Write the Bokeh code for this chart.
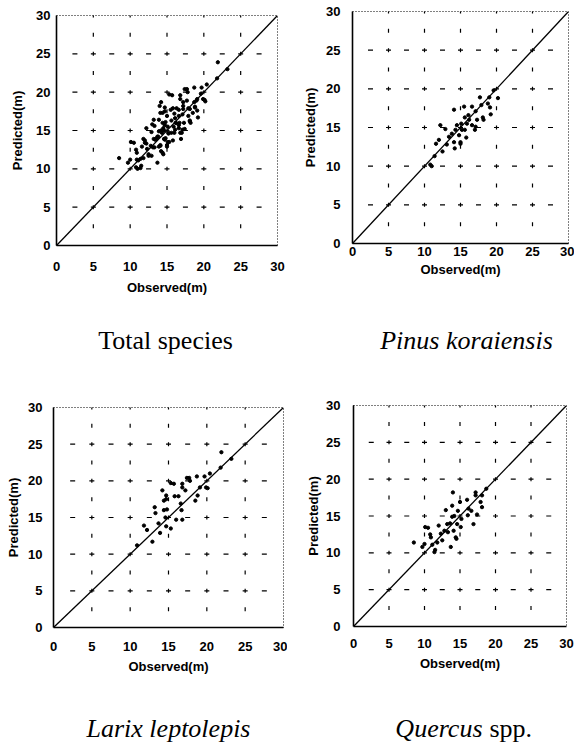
import math
from bokeh.plotting import figure
from bokeh.models import Range1d, FixedTicker
from bokeh.core.properties import value
from bokeh.layouts import column, row
from bokeh.embed import file_html
from bokeh.resources import INLINE

# ---------------- data ----------------
ticks = [0, 5, 10, 15, 20, 25, 30]
tick_labels = ["0", "5", "10", "15", "20", "25", "30"]
half_steps = [0, 2.5, 5, 7.5, 10, 12.5, 15, 17.5, 20, 22.5, 25, 27.5, 30]
diag = [0, 30]

pinus_obs = [10.8, 11.0, 11.4, 11.6, 12.0, 12.2, 12.5, 12.9, 13.1, 13.4,
             13.8, 14.1, 14.1, 14.2, 14.3, 14.5, 14.8, 15.0, 15.0, 15.1,
             15.2, 15.5, 15.6, 15.6, 15.8, 15.9, 16.1, 16.2, 16.6, 16.6,
             17.0, 17.1, 17.1, 17.3, 17.7, 17.9, 18.1, 18.2, 18.8, 19.0,
             19.1, 19.2, 19.6, 20.2]
pinus_pred = [10.2, 10.0, 11.3, 12.9, 13.4, 15.3, 11.9, 14.8, 12.8, 13.8,
              14.2, 17.3, 13.1, 12.3, 14.7, 15.3, 14.0, 13.1, 12.9, 15.5,
              14.7, 17.7, 16.3, 14.7, 13.7, 15.5, 16.6, 16.0, 17.7, 15.3,
              14.7, 15.1, 17.1, 16.0, 18.9, 17.9, 16.3, 16.0, 18.1, 18.9,
              17.6, 16.7, 19.8, 18.8]

larix_obs = [10.9, 11.8, 12.2, 12.9, 13.2, 13.3, 13.7, 13.9, 14.2, 14.4,
             14.4, 14.6, 14.7, 14.7, 14.7, 14.8, 15.3, 15.3, 15.7, 15.8,
             16.0, 16.3, 16.6, 16.7, 16.8, 16.8, 16.8, 17.2, 17.4, 17.7,
             17.8, 18.5, 18.7, 18.8, 19.1, 19.7, 19.9, 20.1, 20.4, 21.8,
             21.9, 23.2]
larix_pred = [11.2, 13.9, 13.3, 11.7, 16.4, 15.6, 14.2, 12.9, 18.7, 17.3,
              16.0, 15.0, 18.0, 17.5, 13.8, 16.1, 13.5, 19.7, 19.6, 17.9,
              14.7, 17.9, 16.9, 16.0, 19.6, 19.1, 14.7, 18.7, 20.4, 20.4,
              20.0, 17.3, 20.6, 18.0, 19.1, 20.6, 19.1, 19.0, 21.0, 21.8,
              23.9, 23.0]

quercus_obs = [8.5, 9.7, 10.0, 10.1, 10.5, 10.8, 10.9, 11.1, 11.4, 11.5,
               11.8, 12.0, 12.3, 12.5, 12.8, 13.0, 13.2, 13.3, 13.6, 13.7,
               13.9, 13.9, 14.0, 14.1, 14.2, 14.4, 14.5, 14.6, 14.7, 15.0,
               15.1, 15.2, 16.0, 16.1, 16.2, 16.6, 16.9, 17.2, 17.2, 17.4,
               17.9, 18.1, 18.1, 18.7]
quercus_pred = [11.4, 10.8, 11.2, 13.5, 13.4, 12.5, 12.1, 11.1, 10.1, 10.4,
                11.4, 13.7, 12.6, 11.7, 13.0, 15.8, 13.9, 12.8, 14.0, 10.8,
                16.4, 14.9, 18.2, 13.0, 15.0, 12.1, 11.9, 13.9, 15.7, 16.9,
                13.5, 14.6, 17.2, 15.1, 16.0, 15.7, 13.9, 18.2, 17.8, 15.2,
                16.9, 16.2, 17.8, 18.7]

total_obs = pinus_obs + larix_obs + quercus_obs
total_pred = pinus_pred + larix_pred + quercus_pred

SANS = "Liberation Sans"
SERIF = "Liberation Serif"


def make_panel(obs, pred, width, height, bl, br, bt, bb,
               ytick_so, ylab_so, xtick_so, xlab_so):
    p = figure(width=width, height=height,
               x_range=Range1d(0, 30), y_range=Range1d(0, 30),
               output_backend="svg", toolbar_location=None,
               min_border_left=bl, min_border_right=br,
               min_border_top=bt, min_border_bottom=bb,
               background_fill_color="white", border_fill_color="white")
    p.xgrid.grid_line_color = None
    p.ygrid.grid_line_color = None
    p.outline_line_color = "black"
    p.outline_line_dash = "1 2"
    p.outline_line_width = 1

    for ax in (p.xaxis[0], p.yaxis[0]):
        ax.ticker = FixedTicker(ticks=ticks)
        ax.major_label_overrides = {t: s for t, s in zip(ticks, tick_labels)}
        ax.major_tick_line_color = None
        ax.minor_tick_line_color = None
        ax.major_tick_in = 0
        ax.major_tick_out = 0
        ax.axis_line_color = "black"
        ax.axis_line_width = 1.6
        ax.major_label_text_font = SANS
        ax.major_label_text_font_style = "bold"
        ax.major_label_text_font_size = "13px"
        ax.major_label_text_color = "black"
        ax.axis_label_text_font = SANS
        ax.axis_label_text_font_style = "bold"
        ax.axis_label_text_font_size = "13px"
        ax.axis_label_text_color = "black"
    p.xaxis.axis_label = "Observed(m)"
    p.yaxis.axis_label = "Predicted(m)"
    p.xaxis.major_label_standoff = xtick_so
    p.xaxis.axis_label_standoff = xlab_so
    p.yaxis.major_label_standoff = ytick_so
    p.yaxis.axis_label_standoff = ylab_so

    # dashed grid: short dashes every 2.5 units along each grid line
    inner = ticks[1:-1]
    hx = [x for y in inner for x in half_steps[1:-1]]
    hy = [y for y in inner for x in half_steps[1:-1]]
    p.scatter(hx, hy, marker="dash", size=5, line_color="black", line_width=1.2)
    vx = [x for x in inner for y in half_steps[1:]]
    vy = [y for x in inner for y in half_steps[1:]]
    p.scatter(vx, vy, marker="dash", angle=math.pi / 2, size=4,
              line_color="black", line_width=1.2)

    p.line(diag, diag, line_color="black", line_width=1.3)
    p.scatter(obs, pred, size=3.3, fill_color="black", line_color="black")
    return p


def make_title(width, height, bl, br, base_y, parts):
    t = figure(width=width, height=height,
               x_range=Range1d(0, 30), y_range=Range1d(0, height),
               output_backend="svg", toolbar_location=None,
               x_axis_location=None, y_axis_location=None,
               min_border_left=bl, min_border_right=br,
               min_border_top=0, min_border_bottom=0,
               background_fill_color="white", border_fill_color="white")
    t.outline_line_color = None
    t.xgrid.grid_line_color = None
    t.ygrid.grid_line_color = None
    for text, style, align, dx in parts:
        t.text(x=[15], y=[base_y], text=[text], x_offset=dx,
               text_align=align, text_baseline="alphabetic",
               text_font=value(SERIF), text_font_size="26px",
               text_font_style=style, text_color="black")
    return t


p1 = make_panel(total_obs, total_pred, 287, 300, 56, 10, 15, 55, 6, 8, 16, 6)
t1 = make_title(287, 70, 56, 10, 30, [("Total species", "normal", "center", -1.5)])

p2 = make_panel(pinus_obs, pinus_pred, 287, 300, 65, 6, 11, 57, 12, 5, 3, 3)
t2 = make_title(287, 70, 65, 6, 30, [("Pinus koraiensis", "italic", "center", 6)])

p3 = make_panel(larix_obs, larix_pred, 287, 320, 53, 4, 37, 63, 11, 4, 14, 5)
t3 = make_title(287, 54, 53, 4, 16, [("Larix leptolepis", "italic", "center", 0)])

p4 = make_panel(quercus_obs, quercus_pred, 287, 320, 66, 8, 35, 64, 13, 2, 12, 5)
t4 = make_title(287, 54, 66, 8, 16, [("Quercus", "italic", "right", 22.5),
                                    ("spp.", "normal", "left", 29.5)])

layout = column(row(column(p1, t1), column(p2, t2)),
                row(column(p3, t3), column(p4, t4)))
open("out.html", "w").write(file_html(layout, INLINE))
